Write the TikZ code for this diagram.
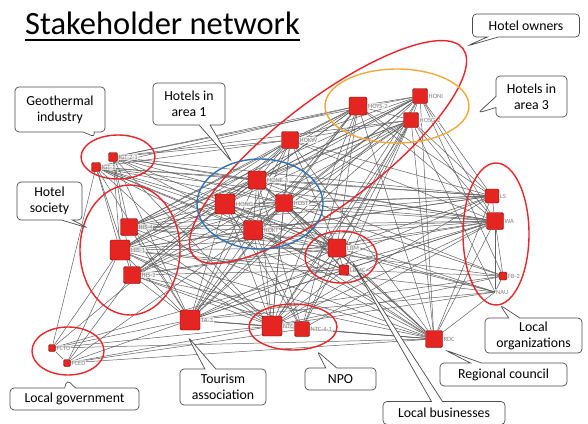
\documentclass[tikz,border=0pt]{standalone}
\usepackage{fontspec}
\setmainfont{Carlito}
\usetikzlibrary{shapes.callouts, backgrounds}

\definecolor{ringred}{HTML}{E8262B}
\definecolor{ringblue}{HTML}{2E74B5}
\definecolor{ringorange}{HTML}{F2A93B}
\definecolor{hubred}{HTML}{E52521}

\tikzset{
  hub/.style={rectangle, rounded corners=1.5pt, draw=red!45!black, fill=hubred, inner sep=0pt, minimum size=#1},
  tag/.style={text=black!50, font=\fontsize{6.5}{6.5}\selectfont, inner sep=0.8pt, fill=white, fill opacity=0.7, text opacity=1},
  tie/.style={draw=black!62, line width=0.5pt},
  ring/.style={draw=ringred, line width=1.4pt},
  note/.style={rectangle callout, rounded corners=4pt, draw=black!70, fill=white, line width=0.7pt,
    font=\fontsize{13.8}{16}\selectfont, align=center, inner sep=0pt, callout pointer width=11pt},
  headline/.style={font=\fontsize{32.5}{34}\selectfont, inner sep=0pt}
}

\begin{document}
\begin{tikzpicture}[x=1pt, y=-1pt]
\useasboundingbox (0,0) rectangle (588,423);

% title
\node[headline, anchor=base west] (head) at (25,34) {Stakeholder network};
\draw[line width=1.4pt] ([yshift=-6pt]head.base west) -- ([yshift=-6pt]head.base east);

% stakeholders
\node[hub=9, label={[tag]right:IGT-2-1}] (igta) at (113,157) {};
\node[hub=9, label={[tag]right:IGT-1}] (igtb) at (96,167) {};
\node[hub=17, label={[tag]right:HIS-4}] (hisd) at (129,227) {};
\node[hub=20, label={[tag]right:HIS-1}] (hisa) at (120,250) {};
\node[hub=17, label={[tag]right:HIS-2}] (hisb) at (132,275) {};
\node[hub=17, label={[tag]right:HOKW}] (hokw) at (290,140) {};
\node[hub=18, label={[tag]right:HONE-3}] (hone) at (257,180) {};
\node[hub=20, label={[tag]right:HONG}] (hong) at (225,204) {};
\node[hub=17, label={[tag]right:HOST}] (host) at (284,203) {};
\node[hub=19, label={[tag]right:HOKT}] (hokt) at (253,230) {};
\node[hub=18, label={[tag]right:LBM}] (lbm) at (337,248) {};
\node[hub=10, label={[tag]right:LBMC}] (lbmc) at (344,270) {};
\node[hub=18, label={[tag]right:HOYS-2}] (hoys) at (358,106) {};
\node[hub=15, label={[tag]right:HONI}] (honi) at (420,96) {};
\node[hub=15, label={[tag]right:HOSG-2}] (hosg) at (411,120) {};
\node[hub=14, label={[tag]right:LS}] (ls) at (492,196) {};
\node[hub=17, label={[tag]right:WA}] (wa) at (495,221) {};
\node[hub=8, label={[tag]right:FB-2}] (fb) at (503,276) {};
\node[inner sep=0pt, minimum size=0pt, label={[tag]right:NAU}] (nau) at (495,292) {};
\node[hub=17, label={[tag]right:RDC}] (rdc) at (434,339) {};
\node[hub=20, label={[tag]right:TA-3}] (ta) at (190,320) {};
\node[hub=20, label={[tag]right:NTC-1}] (ntca) at (272,326) {};
\node[hub=15, label={[tag]right:NTC-4-1}] (ntcb) at (302,329) {};
\node[hub=7, label={[tag]right:FCTO}] (fcto) at (52,348) {};
\node[hub=7, label={[tag]right:FCED}] (fced) at (67,363) {};

% ties
\begin{scope}[on background layer]
\fill[white] (0,0) rectangle (588,423);
\foreach \a/\bs in {
  igta/{hoys,honi,hosg,hokw,hone,host,ls,wa,lbm,hisd,hisa,hisb,ta,hokt,ntca},
  igtb/{hoys,hokw,hong,hone,host,hokt,lbm,lbmc,wa,ls,hisa,hisb,ta,ntca,fcto,rdc},
  hisd/{hoys,honi,hosg,hokw,hone,hong,host,hokt,lbm,ls,wa,fb,ntca,ta,rdc},
  hisa/{hoys,honi,hokw,hone,hong,host,hokt,lbm,lbmc,ls,wa,nau,ta,ntca,ntcb,rdc,fcto,fced},
  hisb/{hosg,hokw,hone,hong,host,hokt,lbm,lbmc,wa,ta,ntca,ntcb,rdc,fced},
  hokw/{hoys,honi,hosg,hone,hong,host,hokt,lbm,ls,wa,ta,ntca,rdc},
  hone/{hoys,honi,hosg,hong,host,hokt,lbm,lbmc,ls,wa,fb,ta,ntca,ntcb,rdc},
  hong/{hoys,honi,hosg,host,hokt,lbm,ls,wa,nau,ta,ntca,ntcb,rdc,fcto},
  host/{hoys,honi,hosg,hokt,lbm,lbmc,ls,wa,fb,ta,ntca,rdc},
  hokt/{hoys,honi,hosg,lbm,lbmc,ls,wa,nau,ta,ntca,ntcb,rdc,fced},
  hoys/{honi,hosg,lbm,ls,wa,ta,ntca,ntcb,rdc},
  honi/{hosg,lbm,ls,wa,ta,ntca,rdc,fb},
  hosg/{lbm,lbmc,ls,wa,nau,ta,ntca,ntcb,rdc},
  lbm/{lbmc,ls,wa,ta,ntca,ntcb,rdc,nau},
  lbmc/{wa,ta,ntca,rdc,fb},
  ls/{wa,ta,ntca,rdc},
  wa/{fb,nau,ta,ntca,ntcb,rdc,fcto},
  fb/{nau,ta,ntca},
  nau/{ta,ntca,rdc},
  rdc/{ta,ntca,ntcb,fcto,fced},
  ta/{ntca,ntcb,fcto,fced},
  ntca/{ntcb,fcto,fced},
  ntcb/{fced},
  fcto/{fced}}
  \foreach \b in \bs
    \draw[tie] (\a) -- (\b);
\end{scope}

% groups
\draw[ring] (118,157) ellipse [x radius=37, y radius=22];
\draw[ring] (130,250) ellipse [x radius=50, y radius=65];
\draw[ring, rotate around={37.5:(328,152)}] (328,152) ellipse [x radius=170, y radius=52];
\draw[draw=ringblue, line width=1.4pt] (260,204) ellipse [x radius=63, y radius=45];
\draw[draw=ringorange, line width=1.4pt] (397,106) ellipse [x radius=72, y radius=37];
\draw[ring] (341,257) ellipse [x radius=36, y radius=26];
\draw[ring] (496,234) ellipse [x radius=33, y radius=71];
\draw[ring] (68,351) ellipse [x radius=36, y radius=24];
\draw[ring] (293,327) ellipse [x radius=44, y radius=23];

% callouts
\coordinate (towners) at (467,46);
\coordinate (tarea3) at (478,113);
\coordinate (tgeo) at (95,137);
\coordinate (tarea1) at (232,162);
\coordinate (tsociety) at (88,228);
\coordinate (torgs) at (500,305);
\coordinate (tcouncil) at (445,350);
\coordinate (tbiz) at (352,262);
\coordinate (tnpo) at (317,351);
\coordinate (ttourism) at (188,337);
\coordinate (tgov) at (67,380);

\node[note, minimum width=107pt, minimum height=23pt, callout absolute pointer={(towners)}] (owners) at (526,25.5) {Hotel owners};
\node[note, minimum width=71pt, minimum height=41pt, callout absolute pointer={(tarea3)}] (area3) at (531.5,96.5) {Hotels in\\area 3};
\node[note, minimum width=90pt, minimum height=45pt, callout absolute pointer={(tgeo)}] (geo) at (60,109.5) {Geothermal\\industry};
\node[note, minimum width=72pt, minimum height=42pt, callout absolute pointer={(tarea1)}] (area1) at (189,104) {Hotels in\\area 1};
\node[note, minimum width=65pt, minimum height=38pt, callout absolute pointer={(tsociety)}] (society) at (49.5,201) {Hotel\\society};
\node[note, minimum width=97pt, minimum height=35pt, callout absolute pointer={(torgs)}] (orgs) at (533.5,335.5) {Local\\organizations};
\node[note, minimum width=127pt, minimum height=23pt, callout absolute pointer={(tcouncil)}] (council) at (503.5,374.5) {Regional council};
\node[note, minimum width=122pt, minimum height=23pt, callout absolute pointer={(tbiz)}] (biz) at (444,413) {Local businesses};
\node[note, minimum width=71pt, minimum height=22pt, callout absolute pointer={(tnpo)}] (npo) at (340.5,379) {NPO};
\node[note, minimum width=86pt, minimum height=36pt, callout absolute pointer={(ttourism)}] (tourism) at (223,387) {Tourism\\association};
\node[note, minimum width=129pt, minimum height=22pt, callout absolute pointer={(tgov)}] (gov) at (74.5,399) {Local government};

\end{tikzpicture}
\end{document}
